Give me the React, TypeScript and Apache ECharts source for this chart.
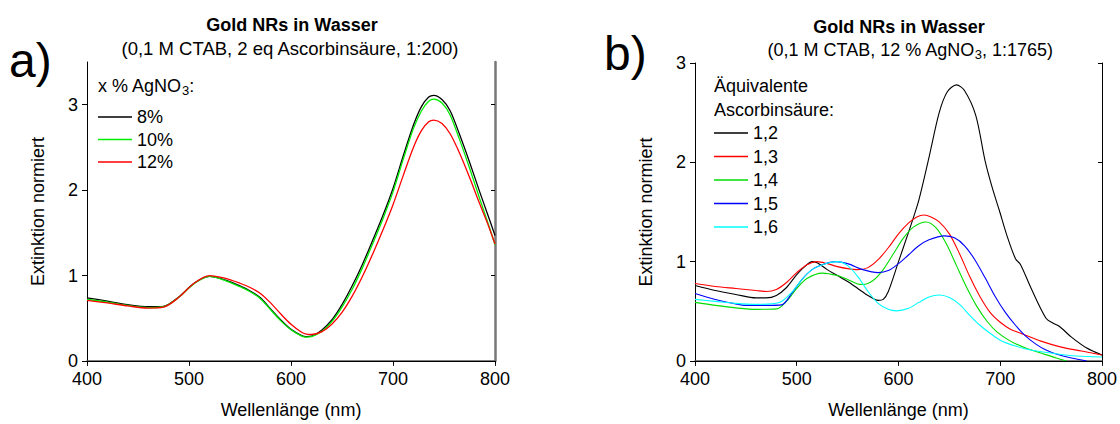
import React, { useEffect, useRef } from 'react';
import * as echarts from 'echarts';

const FONT = '"Liberation Sans", Arial, Helvetica, sans-serif';

// ---------- Panel a: Gold NRs, x % AgNO3 ----------
const wlA = [400, 420, 440, 460, 475, 490, 505, 520, 535, 550, 560, 570, 580, 590, 600, 610, 615, 620, 630, 640, 650, 660, 670, 680, 690, 700, 710, 720, 728, 735, 740, 748, 756, 765, 775, 785, 793, 800];
const a8 = [0.74, 0.70, 0.66, 0.635, 0.64, 0.75, 0.91, 0.99, 0.95, 0.88, 0.82, 0.74, 0.61, 0.48, 0.37, 0.30, 0.285, 0.29, 0.36, 0.48, 0.66, 0.88, 1.13, 1.41, 1.70, 2.02, 2.40, 2.76, 2.98, 3.09, 3.11, 3.06, 2.93, 2.66, 2.33, 1.98, 1.71, 1.47];
const a10 = [0.72, 0.69, 0.65, 0.625, 0.635, 0.745, 0.905, 0.99, 0.945, 0.87, 0.81, 0.73, 0.60, 0.47, 0.365, 0.295, 0.28, 0.285, 0.345, 0.46, 0.63, 0.84, 1.09, 1.37, 1.66, 1.98, 2.36, 2.72, 2.93, 3.04, 3.065, 3.02, 2.88, 2.60, 2.26, 1.90, 1.62, 1.36];
const a12 = [0.71, 0.68, 0.645, 0.62, 0.63, 0.745, 0.91, 1.0, 0.97, 0.91, 0.86, 0.79, 0.68, 0.55, 0.43, 0.34, 0.315, 0.31, 0.34, 0.43, 0.57, 0.76, 0.99, 1.25, 1.53, 1.83, 2.17, 2.50, 2.70, 2.80, 2.82, 2.78, 2.66, 2.44, 2.15, 1.84, 1.60, 1.37];
const namesA = ['8%', '10%', '12%'];

// ---------- Panel b: equivalents of ascorbic acid ----------
const wlB12 = [400, 420, 440, 460, 470, 480, 490, 500, 510, 515, 520, 530, 540, 550, 560, 570, 580, 585, 590, 600, 610, 620, 630, 640, 648, 657, 665, 676, 685, 692, 699, 707, 715, 720, 730, 745, 752, 758, 770, 785, 800];
const b12 = [0.76, 0.71, 0.67, 0.635, 0.635, 0.66, 0.74, 0.87, 0.97, 1.0, 0.99, 0.92, 0.86, 0.80, 0.73, 0.66, 0.61, 0.62, 0.70, 1.0, 1.30, 1.62, 2.05, 2.50, 2.71, 2.78, 2.72, 2.47, 2.02, 1.75, 1.52, 1.25, 1.03, 0.97, 0.74, 0.43, 0.38, 0.35, 0.24, 0.13, 0.06];

const wlB13 = [400, 420, 440, 460, 470, 480, 490, 500, 510, 520, 530, 540, 550, 560, 570, 580, 590, 600, 610, 618, 625, 632, 640, 650, 660, 670, 680, 690, 700, 710, 720, 740, 760, 780, 800];
const b13 = [0.78, 0.75, 0.73, 0.71, 0.70, 0.72, 0.79, 0.89, 0.97, 1.0, 0.98, 0.95, 0.93, 0.92, 0.94, 1.02, 1.14, 1.28, 1.39, 1.45, 1.47, 1.45, 1.40, 1.28, 1.08, 0.85, 0.65, 0.49, 0.39, 0.32, 0.28, 0.20, 0.14, 0.10, 0.06];

const wlB14 = [400, 420, 440, 460, 480, 490, 500, 510, 525, 540, 550, 560, 565, 575, 585, 595, 605, 615, 627, 637, 647, 657, 667, 677, 687, 697, 710, 725, 740, 755, 765];
const b14 = [0.59, 0.56, 0.535, 0.52, 0.525, 0.60, 0.73, 0.83, 0.885, 0.86, 0.82, 0.775, 0.77, 0.81, 0.92, 1.08, 1.24, 1.35, 1.40, 1.34, 1.18, 0.96, 0.74, 0.55, 0.40, 0.29, 0.20, 0.13, 0.08, 0.03, 0.0];

const wlB15 = [400, 420, 440, 450, 470, 485, 495, 505, 515, 525, 538, 550, 565, 580, 590, 600, 610, 620, 630, 645, 655, 665, 675, 685, 695, 705, 715, 725, 735, 745, 755, 770, 785];
const b15 = [0.68, 0.62, 0.575, 0.56, 0.56, 0.565, 0.68, 0.82, 0.92, 0.97, 1.0, 0.98, 0.92, 0.89, 0.91, 0.98, 1.07, 1.16, 1.22, 1.26, 1.24, 1.16, 1.02, 0.84, 0.65, 0.49, 0.36, 0.25, 0.17, 0.11, 0.07, 0.03, 0.0];

const wlB16 = [400, 420, 440, 460, 475, 485, 495, 505, 515, 528, 540, 550, 560, 570, 580, 590, 598, 610, 620, 630, 640, 650, 660, 670, 680, 690, 700, 715, 730, 750, 775, 800];
const b16 = [0.62, 0.60, 0.58, 0.57, 0.575, 0.60, 0.69, 0.82, 0.92, 0.98, 1.0, 0.96, 0.85, 0.70, 0.58, 0.52, 0.505, 0.53, 0.59, 0.645, 0.665, 0.64, 0.57, 0.46, 0.36, 0.28, 0.21, 0.15, 0.11, 0.08, 0.05, 0.04];

const namesB = ['1,2', '1,3', '1,4', '1,5', '1,6'];

const xMin = 400;
const xMax = 800;
const xStep = 100;
const yMaxA = 3.5;
const yMaxB = 3;
const yTicksA = [0, 1, 2, 3];

const pairs = (x: number[], y: number[]) => x.map((v, i) => [v, y[i]]);

function makeLine(name: string, x: number[], y: number[], color: string, idx: number, width = 1.3) {
  return {
    type: 'line',
    name,
    data: pairs(x, y),
    xAxisIndex: idx,
    yAxisIndex: idx,
    showSymbol: false,
    symbol: 'none',
    smooth: 0.3,
    lineStyle: { color, width },
    itemStyle: { color },
    z: 3,
  };
}

const labelStyle = { fontSize: 18, color: '#000', fontFamily: FONT };

function bottomX(grid: number) {
  return {
    type: 'value', gridIndex: grid, position: 'bottom', min: xMin, max: xMax, interval: xStep,
    axisLine: { show: true, lineStyle: { color: '#555', width: 1.6 } },
    axisTick: { show: true, length: 5, lineStyle: { color: '#222', width: 1 } },
    axisLabel: { ...labelStyle, margin: 9 },
    splitLine: { show: false },
    name: 'Wellenlänge (nm)', nameLocation: 'middle', nameGap: 40,
    nameTextStyle: { fontSize: 18, color: '#000', fontFamily: FONT },
  };
}
function topX(grid: number) {
  return {
    type: 'value', gridIndex: grid, position: 'top', min: xMin, max: xMax, interval: xStep,
    axisLine: { show: true, lineStyle: { color: '#000', width: 1 } },
    axisTick: { show: true, inside: true, length: 3, lineStyle: { color: '#000', width: 1 } },
    axisLabel: { show: false },
    splitLine: { show: false },
  };
}

const legendBase = {
  orient: 'vertical', padding: 0, icon: 'rect',
  itemWidth: 34, itemHeight: 1.3, selectedMode: false,
  textStyle: { fontSize: 18, color: '#000', fontFamily: FONT, lineHeight: 18 },
};

export default function App() {
  const ref = useRef<HTMLDivElement>(null);
  useEffect(() => {
    if (!ref.current) return;
    const chart = echarts.init(ref.current, undefined, { renderer: 'svg' });
    const rich = {
      n: { fontSize: 18, fontFamily: FONT, color: '#000', lineHeight: 22 },
      s: { fontSize: 13, fontFamily: FONT, color: '#000', lineHeight: 14, padding: [8, 0, 0, 0] },
    };
    const option: any = {
      animation: false,
      backgroundColor: '#fff',
      grid: [
        { left: 87, top: 62, width: 408, height: 302 },
        { left: 695, top: 63, width: 408, height: 300 },
      ],
      xAxis: [bottomX(0), topX(0), bottomX(1), topX(1)],
      yAxis: [
        {
          type: 'value', gridIndex: 0, position: 'left', min: 0, max: yMaxA,
          axisLine: { show: true, lineStyle: { color: '#000', width: 1 } },
          axisTick: { show: true, length: 5, customValues: yTicksA, lineStyle: { color: '#000' } },
          axisLabel: { ...labelStyle, margin: 9, customValues: yTicksA },
          splitLine: { show: false },
          name: 'Extinktion normiert', nameLocation: 'middle', nameGap: 40, nameRotate: 90,
          nameTextStyle: { fontSize: 18, color: '#000', fontFamily: FONT },
        },
        {
          type: 'value', gridIndex: 0, position: 'right', min: 0, max: yMaxA,
          axisLine: { show: true, lineStyle: { color: '#777', width: 2.5 } },
          axisTick: { show: true, inside: true, length: 4, customValues: yTicksA, lineStyle: { color: '#000' } },
          axisLabel: { show: false },
          splitLine: { show: false },
        },
        {
          type: 'value', gridIndex: 1, position: 'left', min: 0, max: yMaxB, interval: 1,
          axisLine: { show: true, lineStyle: { color: '#000', width: 1 } },
          axisTick: { show: true, length: 5, lineStyle: { color: '#000' } },
          axisLabel: { ...labelStyle, margin: 9 },
          splitLine: { show: false },
          name: 'Extinktion normiert', nameLocation: 'middle', nameGap: 40, nameRotate: 90,
          nameTextStyle: { fontSize: 18, color: '#000', fontFamily: FONT },
        },
        {
          type: 'value', gridIndex: 1, position: 'right', min: 0, max: yMaxB, interval: 1,
          axisLine: { show: true, lineStyle: { color: '#000', width: 1 } },
          axisTick: { show: true, inside: true, length: 4, lineStyle: { color: '#000' } },
          axisLabel: { show: false },
          splitLine: { show: false },
        },
      ],
      legend: [
        { ...legendBase, data: namesA, left: 98, top: 108, itemGap: 4.5 },
        { ...legendBase, data: namesB, left: 714, top: 124, itemGap: 5.5 },
      ],
      graphic: [
        { type: 'text', left: 9, top: 36, style: { text: 'a)', font: `48px ${FONT}`, fill: '#000' } },
        { type: 'text', left: 604, top: 29, style: { text: 'b)', font: `48px ${FONT}`, fill: '#000' } },
        { type: 'text', x: 292, y: 25, style: { text: 'Gold NRs in Wasser', font: `bold 18px ${FONT}`, fill: '#000', align: 'center', verticalAlign: 'middle' } },
        { type: 'text', x: 290, y: 48, style: { text: '(0,1 M CTAB, 2 eq Ascorbinsäure, 1:200)', font: `18.5px ${FONT}`, fill: '#000', align: 'center', verticalAlign: 'middle' } },
        { type: 'text', x: 899, y: 27, style: { text: 'Gold NRs in Wasser', font: `bold 18px ${FONT}`, fill: '#000', align: 'center', verticalAlign: 'middle' } },
        { type: 'text', x: 910, y: 50, style: { text: '{n|(0,1 M CTAB, 12 % AgNO}{s|3}{n|, 1:1765)}', rich, align: 'center', verticalAlign: 'middle' } },
        { type: 'text', x: 98, y: 86, style: { text: '{n|x % AgNO}{s|3}{n|:}', rich, align: 'left', verticalAlign: 'middle' } },
        { type: 'text', x: 714, y: 86, style: { text: 'Äquivalente', font: `18px ${FONT}`, fill: '#000', align: 'left', verticalAlign: 'middle' } },
        { type: 'text', x: 714, y: 110, style: { text: 'Ascorbinsäure:', font: `18px ${FONT}`, fill: '#000', align: 'left', verticalAlign: 'middle' } },
      ],
      series: [
        makeLine('8%', wlA, a8, '#000000', 0),
        makeLine('10%', wlA, a10, '#00ee00', 0),
        makeLine('12%', wlA, a12, '#ff0000', 0),
        makeLine('1,2', wlB12, b12, '#000000', 2, 1.1),
        makeLine('1,3', wlB13, b13, '#ff0000', 2, 1.1),
        makeLine('1,4', wlB14, b14, '#00dd00', 2, 1.1),
        makeLine('1,5', wlB15, b15, '#0000ff', 2, 1.1),
        makeLine('1,6', wlB16, b16, '#00ffff', 2, 1.1),
      ],
    };
    chart.setOption(option);
    return () => chart.dispose();
  }, []);
  return <div ref={ref} style={{ width: 1120, height: 424, position: 'absolute', left: 0, top: 0, background: '#fff' }} />;
}
